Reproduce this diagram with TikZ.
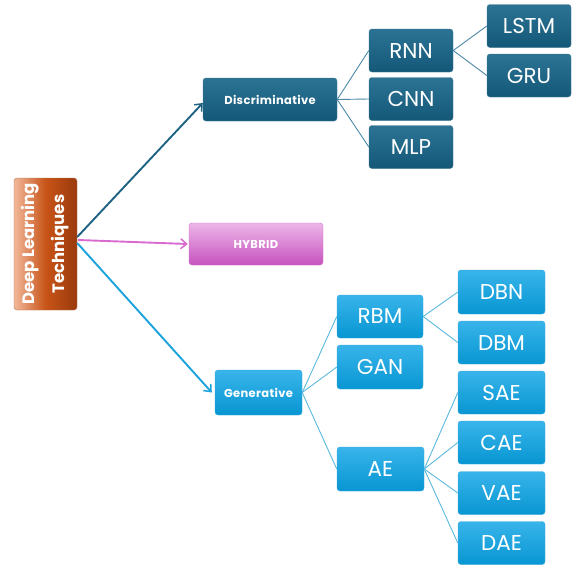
\documentclass[tikz,border=0pt]{standalone}
\usepackage{fontspec}
\setmainfont{Poppins}
\usetikzlibrary{arrows.meta}
\definecolor{discT}{HTML}{2C7393}
\definecolor{discB}{HTML}{145878}
\definecolor{genT}{HTML}{38B4EA}
\definecolor{genB}{HTML}{0896D2}
\definecolor{hybT}{HTML}{EDB6E8}
\definecolor{hybB}{HTML}{C652BE}
\definecolor{dltL}{HTML}{F2B89A}
\definecolor{dltM}{HTML}{C85418}
\definecolor{dltR}{HTML}{9A3A0C}
\definecolor{arrDisc}{HTML}{1F6384}
\definecolor{arrHyb}{HTML}{D86AD0}
\definecolor{arrGen}{HTML}{1AA3DC}
\definecolor{lnDisc}{HTML}{4C88A6}
\definecolor{lnGen}{HTML}{5CB9DE}
\tikzset{
  box/.style={rectangle, rounded corners=3pt, text=white, inner sep=0pt, align=center},
  discbox/.style={box, top color=discT, bottom color=discB, draw=discB!80!white, line width=0.4pt},
  genbox/.style={box, top color=genT, bottom color=genB, draw=genB!80!white, line width=0.4pt},
  big/.style={font=\fontsize{21.5}{25}\selectfont},
  small/.style={font=\fontsize{11.5}{13}\selectfont\bfseries\addfontfeature{LetterSpace=3}},
  leaf/.style={minimum width=85pt, minimum height=43pt, big},
  arr/.style={line width=1.9pt, -{Straight Barb[length=6pt,width=10pt,line width=1.5pt]}},
  twig/.style={line width=0.9pt}
}
\begin{document}
\begin{tikzpicture}[x=1pt,y=-1pt]
\useasboundingbox (0,0) rectangle (572,565);
\fill[white] (0,0) rectangle (572,565);
% root
\node[box, minimum width=63pt, minimum height=132pt, draw=dltR!70!white, line width=0.4pt,
  left color=dltL, right color=dltR, middle color=dltM] (dlt) at (45.5,244) {};
\node[text=white, rotate=90, align=center, font=\fontsize{16.5}{30}\selectfont\bfseries] (dltlab) at (dlt.center) {Deep Learning\\Techniques};
% level 1
\node[discbox, small, minimum width=134pt, minimum height=43pt] (disc) at (270,99.5) {Discriminative};
\node[box, small, minimum width=134pt, minimum height=42pt, top color=hybT, bottom color=hybB, draw=hybB!80!white, line width=0.4pt] (hyb) at (256,244) {HYBRID};
\node[genbox, small, minimum width=87pt, minimum height=45pt] (gen) at (258.5,392.5) {Generative};
% discriminative subtree
\node[discbox, leaf, minimum width=84pt] (rnn) at (411,50.5) {RNN};
\node[discbox, leaf, minimum width=84pt] (cnn) at (411,99) {CNN};
\node[discbox, leaf, minimum width=84pt] (mlp) at (411,147) {MLP};
\node[discbox, leaf, minimum width=84pt] (lstm) at (529,26) {LSTM};
\node[discbox, leaf, minimum width=84pt] (gru) at (529,75.5) {GRU};
% generative subtree
\node[genbox, leaf, minimum width=86pt] (rbm) at (380,316.5) {RBM};
\node[genbox, leaf, minimum width=86pt, minimum height=44pt] (gan) at (380,367) {GAN};
\node[genbox, leaf, minimum width=87pt, minimum height=44pt] (ae) at (380.5,469) {AE};
\node[genbox, leaf, minimum width=87pt, minimum height=44pt] (dbn) at (501.5,292) {DBN};
\node[genbox, leaf, minimum width=87pt] (dbm) at (501.5,342.5) {DBM};
\node[genbox, leaf, minimum width=87pt] (sae) at (501.5,392.5) {SAE};
\node[genbox, leaf, minimum width=87pt] (cae) at (501.5,442.5) {CAE};
\node[genbox, leaf, minimum width=87pt] (vae) at (501.5,493) {VAE};
\node[genbox, leaf, minimum width=87pt] (dae) at (501.5,543) {DAE};
% arrows
\draw[arr, arrDisc] ([yshift=7pt]dlt.east) -- ([yshift=-3.5pt]disc.west);
\draw[arr, arrHyb] ([xshift=1pt,yshift=4pt]dlt.east) -- ([xshift=-1pt]hyb.west);
\draw[arr, arrGen] ([yshift=1pt]dlt.east) -- ([xshift=-3pt]gen.west);
% twigs
\draw[twig, lnDisc] (disc.east) -- (rnn.west);
\draw[twig, lnDisc] (disc.east) -- (cnn.west);
\draw[twig, lnDisc] (disc.east) -- (mlp.west);
\draw[twig, lnDisc] (rnn.east) -- (lstm.west);
\draw[twig, lnDisc] (rnn.east) -- (gru.west);
\draw[twig, lnGen] (gen.east) -- (rbm.west);
\draw[twig, lnGen] (gen.east) -- (gan.west);
\draw[twig, lnGen] (gen.east) -- (ae.west);
\draw[twig, lnGen] (rbm.east) -- (dbn.west);
\draw[twig, lnGen] (rbm.east) -- (dbm.west);
\draw[twig, lnGen] (ae.east) -- (sae.west);
\draw[twig, lnGen] (ae.east) -- (cae.west);
\draw[twig, lnGen] (ae.east) -- (vae.west);
\draw[twig, lnGen] (ae.east) -- (dae.west);
\end{tikzpicture}
\end{document}
